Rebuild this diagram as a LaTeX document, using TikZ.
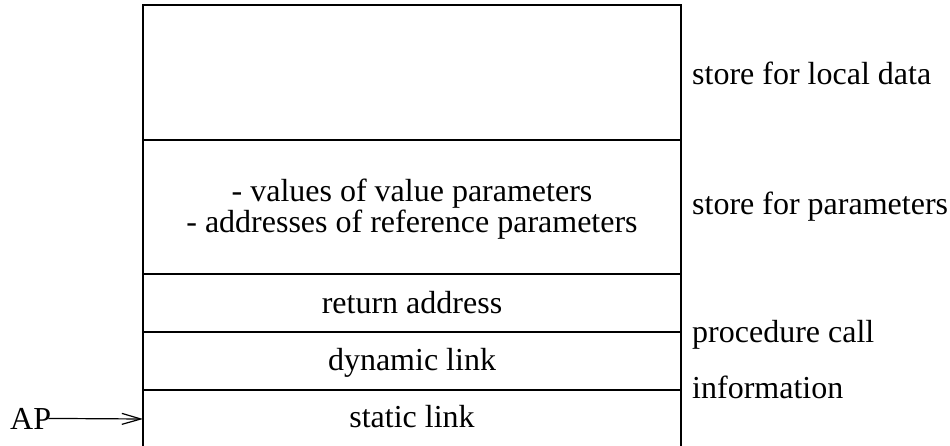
\documentclass[tikz,border=0pt]{standalone}
\usepackage{fontspec}
\setmainfont{Liberation Serif}
\usetikzlibrary{arrows.meta}

\tikzset{
  frame/.style={line width=1.5pt},
  cell/.style={anchor=base, inner sep=0pt},
  side/.style={anchor=base west, inner sep=0pt},
  ptr/.style={line width=1.2pt, -{Straight Barb[length=19pt,width=11pt]}}
}

\begin{document}
\begin{tikzpicture}[x=1pt,y=-1pt,font=\fontsize{32}{36}\selectfont]
	\useasboundingbox (0,0) rectangle (950,446);
	% frame of the record, open at the bottom
	\draw[frame] (143,446) -- (143,5) -- (681,5) -- (681,446);
	\foreach \yy in {140,274,332,390}
		\draw[frame] (143,\yy) -- (681,\yy);
	% cell contents
	\node[cell] (val) at (412,202) {- values of value parameters};
	\node[cell] (addr) at (412,233) {- addresses of reference parameters};
	\node[cell] (ret) at (412,313) {return address};
	\node[cell] (dyn) at (412,370) {dynamic link};
	\node[cell] (stat) at (412,427) {static link};
	% labels on the right
	\node[side] (local) at (692,85) {store for local data};
	\node[side] (param) at (692,215) {store for parameters};
	\node[side] (proc) at (692,342) {procedure call};
	\node[side] (info) at (692,398) {information};
	% activation pointer
	\node[side] (ap) at (10,429) {AP};
	\coordinate (apx) at (143,419);
	\draw[ptr, shorten <=-3pt] (ap.east) -- (apx);
\end{tikzpicture}
\end{document}
